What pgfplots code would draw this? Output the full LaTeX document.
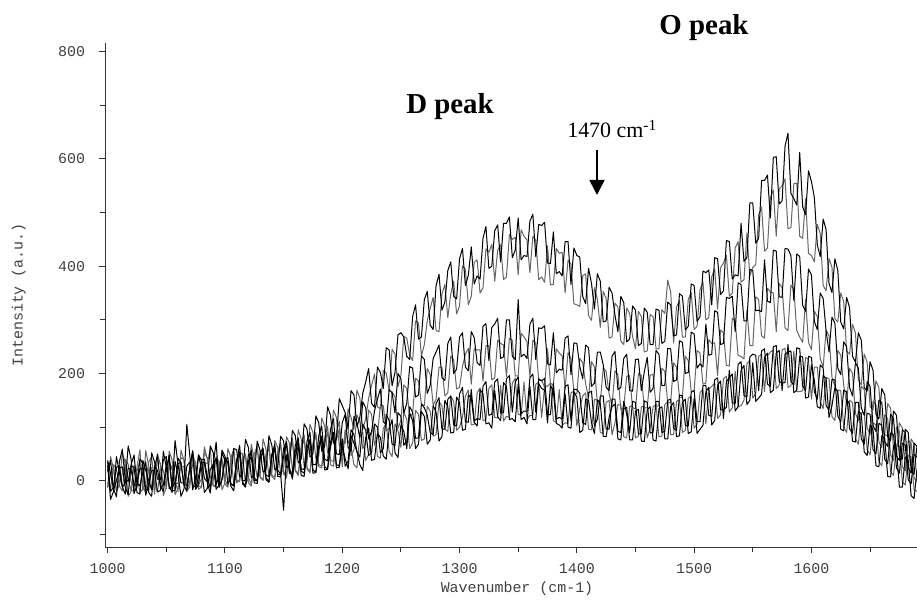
\documentclass[border=0pt]{standalone}
\usepackage{fontspec}
\setmainfont{Liberation Serif}
\setmonofont{Liberation Mono}
\usepackage{pgfplots}
\pgfplotsset{compat=1.18}
\usepackage{pgfplotstable}
\usetikzlibrary{arrows.meta}
\pgfplotstableread{
x a1 a2 b1 b2 c1 c2 c3
1000 35 -13 38 -3 17 -12 28
1002.5 -20 45 13 -16 38 12 -35
1005 -12 22 -15 30 -18 26 -20
1007.5 25 -20 -30 22 0 -20 45
1010 28 -8 35 -10 24 -5 15
1012.5 -12 14 59 -19 26 51 -11
1015 -5 30 2 40 -12 35 -25
1017.5 65 -29 -1 31 -26 3 24
1020 40 -20 28 -2 30 -18 20
1022.5 -24 29 25 -12 48 -19 -6
1025 -8 15 -22 25 -6 18 -12
1027.5 23 -23 -25 58 -9 36 41
1030 22 -15 38 -18 15 -10 32
1032.5 -16 56 19 -1 35 -23 -27
1035 -18 28 0 35 -22 22 -5
1037.5 52 -12 -17 44 -29 24 19
1040 35 -5 24 -8 28 -25 18
1042.5 3 39 49 -21 19 50 -21
1045 2 32 -12 22 -10 30 -18
1047.5 39 -28 -8 20 -20 -8 55
1050 45 -12 30 -15 20 -2 25
1052.5 -15 36 40 55 48 22 -10
1055 -10 20 -18 38 -14 28 -22
1057.5 75 -1 -19 -5 -3 -26 36
1060 30 -20 42 -5 32 -15 12
1062.5 -4 57 33 28 34 43 -29
1065 -4 38 -8 26 -8 40 -16
1067.5 105 -19 -8 -19 -20 3 27
1070 48 -2 22 -12 26 -6 35
1072.5 -17 32 56 45 55 52 -11
1075 6 25 -15 34 -16 24 -10
1077.5 48 -11 7 -8 -7 -16 48
1080 38 -10 40 4 35 -12 22
1082.5 4 53 40 63 33 34 -22
1085 -2 42 5 40 -4 32 -14
1087.5 65 -4 -14 8 -23 60 21
1090 52 0 30 -10 30 -8 30
1092.5 -7 45 72 -11 42 -10 -16
1095 8 35 -12 30 -12 36 -8
1097.5 57 -17 2 41 3 30 52
1100 46 -4 44 2 36 -6 38
1102.5 -6 60 33 -10 44 -12 35
1105 4 44 -5 42 -8 34 -10
1107.5 60 -4 -10 59 -7 57 -19
1110 58 8 36 -4 40 2 32
1112.5 7 53 66 2 51 -2 54
1115 12 50 0 38 -2 44 -6
1117.5 77 -6 1 50 -11 44 -12
1120 62 4 48 6 34 -4 36
1122.5 6 68 53 -7 57 -10 44
1125 10 40 6 50 0 38 -4
1127.5 74 6 -1 64 0 66 -5
1130 56 12 52 8 44 6 40
1132.5 16 78 61 1 52 1 57
1135 20 58 10 46 6 50 2
1137.5 84 8 8 72 -2 60 -3
1140 66 16 48 10 50 8 44
1142.5 20 75 68 7 60 2 59
1145 24 62 12 54 8 46 20
1147.5 83 13 11 71 7 67 12
1150 74 22 60 18 46 12 -55
1152.5 24 82 73 5 69 9 48
1155 30 70 16 60 14 54 25
1157.5 94 21 16 80 11 73 3
1160 84 26 66 20 56 18 46
1162.5 33 95 80 13 73 10 65
1165 40 78 22 64 18 58 10
1167.5 106 27 21 86 14 78 8
1170 96 34 74 24 62 22 52
1172.5 44 105 90 17 76 15 77
1175 50 90 30 70 20 64 14
1177.5 121 41 30 90 16 85 15
1180 108 46 84 30 66 26 58
1182.5 55 117 102 27 83 24 78
1185 64 102 40 78 26 70 20
1187.5 138 52 37 102 22 91 21
1190 122 60 96 38 72 30 64
1192.5 70 132 116 36 90 27 86
1195 78 118 50 88 30 76 24
1197.5 153 65 49 111 28 97 25
1200 140 76 108 46 78 26 64
1202.5 127 69 124 92 27 95 41
1205 98 134 62 100 36 74 22
1207.5 168 118 55 47 95 62 84
1210 160 96 120 58 86 30 70
1212.5 101 169 108 123 54 24 55
1215 118 154 80 110 44 82 30
1217.5 163 95 147 60 106 90 19
1220 184 116 136 68 94 38 80
1222.5 209 154 78 132 47 49 98
1225 144 178 92 124 52 90 38
1227.5 137 199 130 66 106 103 40
1230 212 138 152 84 100 46 88
1232.5 202 134 171 141 52 42 81
1235 172 206 110 140 60 98 46
1237.5 248 201 105 93 124 106 40
1240 244 166 170 98 112 54 96
1242.5 177 245 164 166 68 45 114
1245 202 236 126 156 66 106 52
1247.5 272 175 200 98 127 94 43
1250 276 196 190 112 120 62 104
1252.5 268 269 126 179 66 128 92
1255 232 266 144 172 74 114 60
1257.5 226 234 213 118 138 60 126
1260 306 224 210 126 128 70 112
1262.5 328 298 156 191 79 131 60
1265 264 294 160 186 80 124 68
1267.5 268 233 233 143 143 75 129
1270 338 254 226 140 136 78 120
1272.5 353 299 163 209 122 139 68
1275 290 322 178 198 90 130 76
1277.5 282 342 228 141 86 83 140
1280 364 280 240 152 144 86 128
1282.5 385 278 253 212 155 147 74
1285 318 348 192 212 96 140 82
1287.5 333 366 187 158 96 96 150
1290 392 304 256 164 152 92 138
1292.5 408 348 268 232 158 158 89
1295 344 372 200 226 104 148 90
1297.5 339 311 208 171 102 94 156
1300 414 326 268 174 162 100 146
1302.5 433 401 276 213 174 118 94
1305 364 394 212 236 110 158 96
1307.5 383 328 205 247 109 169 160
1310 436 344 278 180 170 104 154
1312.5 367 407 267 246 111 105 109
1315 382 412 220 244 116 164 102
1317.5 376 350 215 244 114 173 170
1320 452 360 288 186 176 112 162
1322.5 474 432 293 252 185 114 106
1325 396 426 224 252 122 172 108
1327.5 400 441 286 188 124 179 98
1330 466 372 292 192 184 118 168
1332.5 477 430 303 262 190 117 119
1335 408 440 228 256 126 178 112
1337.5 480 375 231 253 127 111 183
1340 480 380 300 194 190 120 176
1342.5 492 459 300 266 196 118 114
1345 416 450 232 262 128 182 116
1347.5 430 454 226 195 184 191 110
1350 490 384 338 196 194 124 180
1352.5 412 468 231 275 125 122 114
1355 420 456 236 268 130 184 118
1357.5 418 449 228 259 130 114 106
1360 484 388 292 194 192 122 176
1362.5 497 456 303 262 199 122 114
1365 418 448 226 256 128 180 114
1367.5 478 375 285 187 190 184 181
1370 476 380 284 188 186 118 172
1372.5 482 370 289 174 191 177 169
1375 406 438 218 246 124 176 108
1377.5 405 365 216 182 123 182 178
1380 464 366 276 178 182 112 166
1382.5 386 433 201 246 115 109 107
1385 390 424 208 238 118 170 104
1387.5 382 426 206 233 115 103 98
1390 446 350 266 170 176 108 162
1392.5 446 411 270 239 179 107 100
1395 366 404 198 228 112 164 98
1397.5 434 330 257 164 171 167 165
1400 420 328 256 162 170 102 156
1402.5 417 325 213 228 163 135 90
1405 344 382 190 220 108 158 94
1407.5 330 386 253 181 105 164 152
1410 396 308 248 154 164 96 150
1412.5 368 299 176 222 167 95 108
1415 320 360 182 212 102 152 88
1417.5 386 338 240 144 115 150 151
1420 372 286 240 146 158 90 144
1422.5 296 353 216 210 158 88 83
1425 298 340 174 204 96 146 82
1427.5 361 266 168 162 96 150 118
1430 350 268 232 140 152 86 138
1432.5 309 331 241 205 152 108 143
1435 278 324 170 198 92 142 78
1437.5 344 260 174 133 90 141 76
1440 332 254 228 136 148 82 134
1442.5 259 322 236 195 124 80 137
1445 264 312 168 196 90 138 76
1447.5 326 269 167 136 148 141 76
1450 318 246 226 134 146 80 130
1452.5 252 316 227 200 87 83 133
1455 256 306 168 196 88 138 74
1457.5 322 240 203 136 149 138 73
1460 314 242 230 136 146 80 132
1462.5 254 310 165 197 89 98 138
1465 254 306 172 198 90 138 76
1467.5 320 246 243 139 148 142 74
1470 318 246 236 140 148 82 134
1472.5 256 319 177 210 90 83 138
1475 260 312 178 204 92 142 78
1477.5 333 374 247 145 150 148 78
1480 328 352 246 146 152 86 138
1482.5 270 257 185 220 97 86 146
1485 272 324 188 212 94 148 82
1487.5 349 336 261 155 160 151 84
1490 344 268 258 156 158 90 146
1492.5 281 268 200 232 103 94 152
1495 288 338 202 224 102 154 88
1497.5 367 351 277 166 165 158 91
1500 364 282 274 168 168 98 154
1502.5 297 288 210 243 110 106 88
1505 306 356 218 238 110 164 96
1507.5 391 371 212 180 177 171 103
1510 388 300 292 182 178 106 166
1512.5 393 304 234 263 122 171 174
1515 328 380 236 256 120 176 104
1517.5 416 395 317 257 188 182 112
1520 414 320 314 196 192 116 178
1522.5 347 397 254 281 132 123 186
1525 354 406 256 276 132 190 116
1527.5 448 420 342 215 137 195 185
1530 446 344 340 214 206 128 192
1532.5 376 350 344 303 145 136 199
1535 384 434 278 298 144 204 130
1537.5 382 446 369 233 217 138 138
1540 480 370 366 232 222 140 206
1542.5 409 375 298 227 159 150 215
1545 416 462 298 318 156 218 142
1547.5 518 382 394 252 231 225 150
1550 518 398 392 252 236 154 220
1552.5 443 403 317 343 234 163 148
1555 452 496 318 338 168 232 154
1557.5 560 510 315 270 242 236 161
1560 560 428 412 266 246 166 230
1562.5 570 434 335 359 180 233 238
1565 490 528 332 352 176 240 164
1567.5 603 542 430 350 250 244 169
1570 604 456 428 278 252 172 238
1572.5 516 544 343 368 185 178 243
1575 522 550 342 360 182 244 168
1577.5 624 563 433 285 183 247 236
1580 648 470 432 280 254 174 240
1582.5 536 472 420 365 186 177 242
1585 526 554 336 356 178 242 164
1587.5 514 555 423 280 248 166 169
1590 612 456 418 268 246 166 232
1592.5 511 452 327 258 177 168 231
1595 496 526 316 338 168 230 154
1597.5 578 424 395 258 232 226 156
1600 558 420 384 244 230 152 216
1602.5 528 408 297 316 166 212 187
1605 440 478 282 306 152 212 138
1607.5 418 461 350 228 216 147 135
1610 488 364 340 212 210 134 196
1612.5 468 354 279 281 140 193 191
1615 368 414 240 270 132 190 118
1617.5 351 398 305 193 189 120 140
1620 414 302 294 176 188 112 174
1622.5 392 296 210 243 120 169 166
1625 296 350 198 234 110 168 96
1627.5 283 334 259 178 169 100 93
1630 342 242 250 144 166 90 152
1632.5 323 236 174 210 97 150 143
1635 232 292 158 200 88 146 74
1637.5 221 276 220 126 146 79 72
1640 276 188 210 112 146 68 130
1642.5 262 179 136 176 78 127 124
1645 174 236 122 170 68 126 54
1647.5 167 221 185 99 126 58 47
1650 222 138 176 86 124 48 104
1652.5 206 132 103 148 58 108 96
1655 124 186 92 142 50 104 28
1657.5 115 174 150 72 107 36 26
1660 172 94 146 62 104 28 84
1662.5 160 88 73 123 40 86 78
1665 82 144 64 116 32 84 8
1667.5 75 135 124 48 89 17 7
1670 130 58 116 38 86 10 66
1672.5 122 52 46 100 24 67 59
1675 46 108 38 92 14 64 -12
1677.5 40 98 95 26 70 -2 -12
1680 96 26 90 18 66 -8 44
1682.5 90 23 24 75 2 48 38
1685 18 78 14 70 -6 44 -28
1687.5 12 69 70 5 50 -17 -33
1690 66 0 64 -2 44 -20 20
}\spec
\begin{document}
\begin{tikzpicture}
\path[use as bounding box] (0,0) rectangle (917bp,600bp);
\begin{axis}[
  at={(105.3bp,53bp)}, anchor=south west,
  scale only axis, width=811.7bp, height=503.7bp,
  xmin=998, xmax=1690, ymin=-123.6, ymax=815.7,
  axis lines*=left,
  axis line style={black!80, line width=1bp},
  tick align=outside,
  xtick={1000,1100,...,1600}, minor xtick={1050,1150,...,1650},
  ytick={0,200,...,800}, minor ytick={-100,100,...,700},
  major tick length=6bp, minor tick length=5bp,
  every tick/.style={black!80, line width=1bp},
  every minor tick/.style={black!80, line width=1bp},
  tick label style={font=\fontsize{15}{15}\selectfont\ttfamily, text=black!75},
  /pgf/number format/assume math mode=true,
  /pgf/number format/1000 sep={},
  xticklabel style={inner sep=0pt, yshift=-10bp},
  yticklabel style={inner sep=0pt, xshift=-14bp},
  every axis plot/.append style={line width=1bp, line join=round, mark=none},
]
\addplot[black!60] table[x=x,y=a2]{\spec};
\addplot[black!60] table[x=x,y=b2]{\spec};
\addplot[black!60] table[x=x,y=c2]{\spec};
\addplot[black] table[x=x,y=a1]{\spec};
\addplot[black] table[x=x,y=b1]{\spec};
\addplot[black] table[x=x,y=c1]{\spec};
\addplot[black] table[x=x,y=c3]{\spec};
\end{axis}
\node[font=\fontsize{15}{15}\selectfont\ttfamily, text=black!75, rotate=90] at (18.7bp,305bp) {Intensity (a.u.)};
\node[font=\fontsize{15}{15}\selectfont\ttfamily, text=black!75] at (517bp,11bp) {Wavenumber (cm-1)};
\node[font=\fontsize{29}{29}\selectfont\bfseries, anchor=base] at (704bp,565bp) {O peak};
\node[font=\fontsize{29}{29}\selectfont\bfseries, anchor=base] at (450bp,486bp) {D peak};
\node[font=\fontsize{22}{22}\selectfont, anchor=base] at (612bp,462bp) {1470 cm\textsuperscript{-1}};
\draw[line width=1.6bp, -{Triangle[width=15bp,length=15bp]}] (597bp,450bp) -- (597bp,405bp);
\end{tikzpicture}
\end{document}
